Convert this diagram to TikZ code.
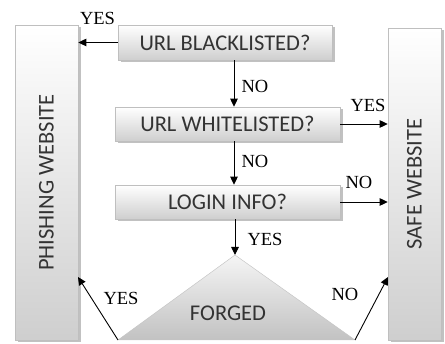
\documentclass[tikz,border=0pt]{standalone}
\usepackage{fontspec}
\setmainfont{Liberation Serif}
\newfontfamily\boxfont{Carlito}
\usetikzlibrary{arrows.meta,shadows}

\definecolor{boxtext}{HTML}{333333}

\begin{document}
\begin{tikzpicture}[x=1pt,y=-1pt,
  panel/.style={draw=gray!50, line width=0.6pt, top color=white, bottom color=gray!38,
    drop shadow={shadow xshift=2.5pt, shadow yshift=-2.5pt, fill=gray!65, opacity=0.75},
    inner sep=0pt},
  boxlabel/.style={font=\boxfont\fontsize{22.5}{25}\selectfont, text=boxtext},
  decision/.style={panel, boxlabel},
  arr/.style={line width=0.9pt, -{Triangle[length=8pt,width=7.5pt]}},
  answer/.style={font=\fontsize{18.5}{20}\selectfont, inner sep=0pt}
]
\useasboundingbox (0,0) rectangle (445,344);

% side panels
\node[panel, minimum width=63pt, minimum height=315pt] (phish) at (46.5,182.5) {};
\node[boxlabel, rotate=90] (phishtxt) at (phish.center) {PHISHING WEBSITE};
\node[panel, minimum width=53pt, minimum height=312pt] (safe) at (414.5,184) {};
\node[boxlabel, rotate=90] (safetxt) at (safe.center) {SAFE WEBSITE};

% decision boxes
\node[decision, minimum width=214pt, minimum height=35pt] (b1) at (225,42.5) {URL BLACKLISTED?};
\node[decision, minimum width=225pt, minimum height=34pt] (b2) at (227.5,124) {URL WHITELISTED?};
\node[decision, minimum width=225pt, minimum height=34pt] (b3) at (227.5,202) {LOGIN INFO?};

% triangle
\coordinate (apex) at (235,255);
\coordinate (tl) at (118,340);
\coordinate (tr) at (355,340);
\shade[top color=gray!8, bottom color=gray!48, draw=gray!45, line width=0.5pt]
  (apex) -- (tr) -- (tl) -- cycle;
\node[boxlabel] (forged) at (228,313) {FORGED};

% spine of the flow
\coordinate (spine) at (234,0);

% connectors
\draw[arr] (b1.west) -- (phish.east |- b1.west);
\draw[arr] (b1.south -| spine) -- (b2.north -| spine);
\draw[arr] (b2.east) -- (safe.west |- b2.east);
\draw[arr] (b2.south -| spine) -- (b3.north -| spine);
\draw[arr] (b3.east) -- (safe.west |- b3.east);
\draw[arr] (b3.south -| apex) -- (apex);
\coordinate (phin) at (78,277);
\coordinate (safein) at (388,277);
\draw[arr] (tl) -- (phin);
\draw[arr] (tr) -- (safein);

% answers
\node[answer] (a1) at (97.5,18) {YES};
\node[answer] (a2) at (255,86) {NO};
\node[answer] (a3) at (368,105) {YES};
\node[answer] (a4) at (255,161) {NO};
\node[answer] (a5) at (359,182) {NO};
\node[answer] (a6) at (265,239) {YES};
\node[answer] (a7) at (121,298) {YES};
\node[answer] (a8) at (345,294) {NO};
\end{tikzpicture}
\end{document}
